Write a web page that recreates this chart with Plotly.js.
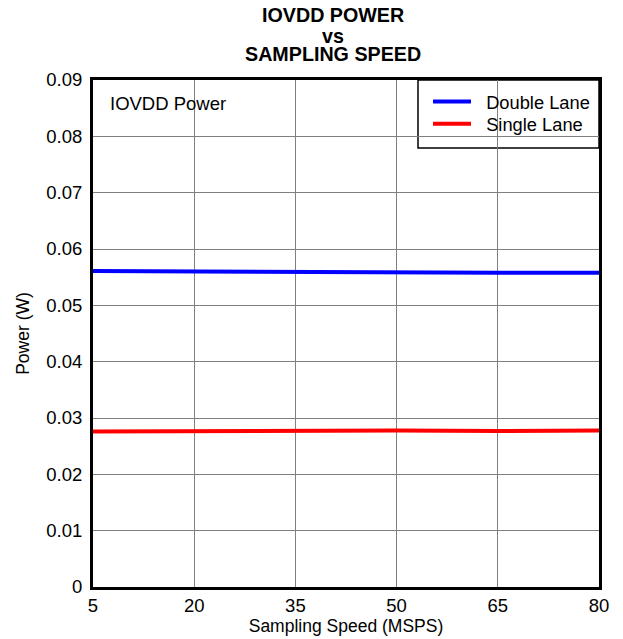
<!DOCTYPE html>
<html>
<head>
<meta charset="utf-8">
<script src="https://cdn.plot.ly/plotly-3.0.1.min.js"></script>
<style>html,body{margin:0;padding:0;background:#fff;}#chart{width:623px;height:639px;}</style>
</head>
<body>
<div id="chart"></div>
<script>
const speedMSPS = [5, 20, 35, 50, 65, 80];
const doubleLaneW = [0.0561, 0.0560, 0.0560, 0.0559, 0.0558, 0.0558];
const singleLaneW = [0.0276, 0.0277, 0.0277, 0.0278, 0.0277, 0.0278];
const xTicks = [5, 20, 35, 50, 65, 80];
const yTicks = [0, 0.01, 0.02, 0.03, 0.04, 0.05, 0.06, 0.07, 0.08, 0.09];
const titleLines = ["IOVDD POWER", "vs", "SAMPLING SPEED"];

const font = "Liberation Sans, Arial, sans-serif";
const pad = "\u00a0\u00a0";
const traces = [
  {x: speedMSPS, y: doubleLaneW, name: pad + "Double Lane", mode: "lines", line: {color: "#0000ff", width: 4}, legend: "legend"},
  {x: speedMSPS, y: singleLaneW, name: pad + "Single Lane", mode: "lines", line: {color: "#ff0000", width: 4}, legend: "legend2"}
];
const titleShifts = [66, 45, 27];
const annotations = titleLines.map((t, i) => ({
  xref: "paper", yref: "paper", x: 0.474, y: 1, xanchor: "center", yanchor: "middle", yshift: titleShifts[i],
  text: "<b>" + t + "</b>", showarrow: false, font: {size: 19.7, family: font, color: "#000"},
  height: 19, borderpad: 0, valign: "middle"
}));
annotations.push({xref: "paper", yref: "paper", x: 0, y: 1, xanchor: "left", yanchor: "middle", xshift: 15, yshift: -23,
  text: "IOVDD Power", showarrow: false, font: {size: 18.5, family: font, color: "#000"}});

const legendBase = {xanchor: "left", yanchor: "top", bgcolor: "rgba(0,0,0,0)", borderwidth: 0,
  font: {size: 18.3, family: font, color: "#000"}, tracegroupgap: 0, itemwidth: 38};
const legX = (428 - 93) / 506;

const layout = {
  width: 623, height: 639,
  margin: {l: 93, r: 24, t: 80, b: 52},
  paper_bgcolor: "#fff", plot_bgcolor: "#fff",
  font: {family: font, color: "#000", size: 18},
  xaxis: {range: [5, 80], tickvals: xTicks, ticktext: xTicks.map(String), showgrid: true, gridcolor: "#7f7f7f", gridwidth: 1,
    showline: true, linecolor: "#000", linewidth: 3, mirror: true, zeroline: false, ticks: "", tickfont: {size: 18.5},
    title: {text: "Sampling Speed (MSPS)", font: {size: 17.5}, standoff: 2}},
  yaxis: {range: [0, 0.09], tickvals: yTicks, ticktext: yTicks.map(v => v === 0 ? "0" : v.toFixed(2)), showgrid: true, gridcolor: "#7f7f7f", gridwidth: 1,
    showline: true, linecolor: "#000", linewidth: 3, mirror: true, zeroline: false, ticks: "", tickfont: {size: 18.5}, ticklabelstandoff: 4,
    title: {text: "Power (W)", font: {size: 17.5}, standoff: 13}},
  legend: Object.assign({}, legendBase, {x: legX, y: 0.994}),
  legend2: Object.assign({}, legendBase, {x: legX, y: 0.950}),
  showlegend: true,
  shapes: [
    {type: "rect", xref: "paper", yref: "paper", x0: 0.004, x1: 0.22, y0: 0.907, y1: 1, fillcolor: "#fff", line: {width: 0}, layer: "between"},
    {type: "rect", xref: "paper", yref: "paper", x0: (418 - 93) / 506, x1: 1, y0: (587 - 148) / 507, y1: 1, fillcolor: "#fff", line: {width: 1.5, color: "#000"}, layer: "between"}
  ],
  annotations: annotations
};
Plotly.newPlot("chart", traces, layout, {displayModeBar: false, staticPlot: true});
</script>
</body>
</html>
